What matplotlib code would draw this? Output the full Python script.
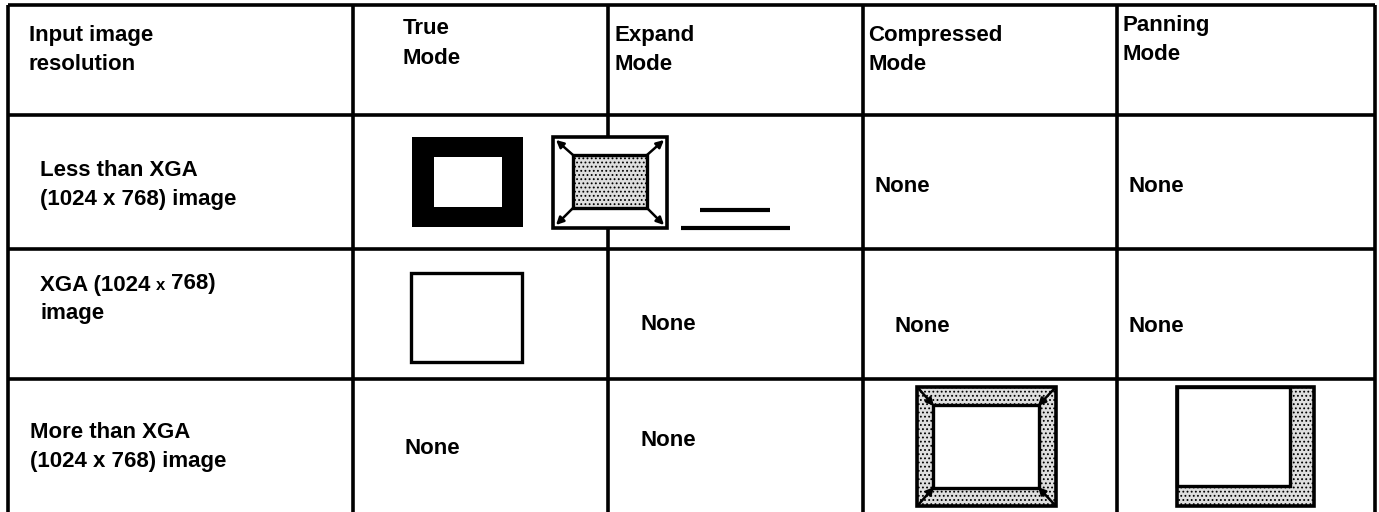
import matplotlib.pyplot as plt
from matplotlib.patches import Rectangle

plt.rcParams['hatch.color'] = '#b8b8b8'
plt.rcParams['hatch.linewidth'] = 0.8

# table content
header_first = ["Input image", "resolution"]
mode_names = [["True", "Mode"], ["Expand", "Mode"], ["Compressed", "Mode"], ["Panning", "Mode"]]
row_names = [["Less than XGA", "(1024 x 768) image"],
             ["XGA (1024 x 768)", "image"],
             ["More than XGA", "(1024 x 768) image"]]
# what sits in each cell: "None" text or a picture
cells = [["thick_frame", "expand", "None", "None"],
         ["frame", "None", "None", "None"],
         ["None", "None", "compressed", "panning"]]

W, H = 1379, 512
col_x = [8, 353, 608, 863, 1117, 1375]
row_y = [5, 115, 249, 379, 514]

fig = plt.figure(figsize=(W / 100, H / 100), dpi=100)
ax = fig.add_axes([0, 0, 1, 1])
ax.set_xlim(0, W)
ax.set_ylim(H, 0)
ax.axis('off')

FS = 16
FAM = ['Liberation Sans', 'DejaVu Sans']
font = dict(family=FAM, weight='bold', fontsize=FS, va='center', ha='left')
LW = 2.6

# grid
for x in col_x:
    ax.plot([x, x], [row_y[0], H], color='black', lw=LW, solid_capstyle='butt', zorder=1)
for y in row_y[:-1]:
    ax.plot([col_x[0], col_x[-1]], [y, y], color='black', lw=LW, solid_capstyle='butt', zorder=1)

# header text
head_pos = [(29, 35, 64), (403, 29, 58), (615, 35, 64), (868, 35, 64), (1122, 25, 54)]
x0, ya, yb = head_pos[0]
ax.text(x0, ya, header_first[0], **font)
ax.text(x0, yb, header_first[1], **font)
for (x0, ya, yb), lines in zip(head_pos[1:], mode_names):
    ax.text(x0, ya, lines[0], **font)
    ax.text(x0, yb, lines[1], **font)

# row label text
row_pos = [(40, 170, 200), (40, 285, 314), (30, 433, 462)]
for i, ((x0, ya, yb), lines) in enumerate(zip(row_pos, row_names)):
    if i == 1:
        # the x in this line is set smaller
        t1 = ax.text(x0, ya, "XGA (1024", **font)
        t2 = ax.annotate("x", xy=(1, 0), xycoords=t1, xytext=(4, 3.7), textcoords='offset points',
                         family=FAM, weight='bold', fontsize=12, va='baseline', ha='left')
        ax.annotate("768)", xy=(1, 0), xycoords=t2, xytext=(4, 2.8), textcoords='offset points',
                    family=FAM, weight='bold', fontsize=FS, va='baseline', ha='left')
    else:
        ax.text(x0, ya, lines[0], **font)
    ax.text(x0, yb, lines[1], **font)

# "None" positions per cell
none_pos = {(0, 2): (875, 186), (0, 3): (1128, 186),
            (1, 1): (640, 325), (1, 2): (895, 327), (1, 3): (1128, 327),
            (2, 0): (405, 448), (2, 1): (640, 441)}

gray = '#dedede'


def rect(x1, y1, x2, y2, **kw):
    ax.add_patch(Rectangle((x1, y1), x2 - x1, y2 - y1, **kw))


def arrow(start, end):
    ax.annotate('', xy=end, xytext=start,
                arrowprops=dict(arrowstyle='-|>', lw=1.8, color='black', mutation_scale=11,
                                shrinkA=0, shrinkB=0), zorder=5)


for r, row in enumerate(cells):
    for c, kind in enumerate(row):
        if kind == "None":
            x0, y0 = none_pos[(r, c)]
            ax.text(x0, y0, "None", **font)
        elif kind == "thick_frame":
            rect(412, 137, 523, 227, facecolor='black', edgecolor='black', lw=0, zorder=3)
            rect(434, 157, 502, 207, facecolor='white', edgecolor='none', zorder=4)
        elif kind == "expand":
            rect(553, 137, 667, 228, facecolor='white', edgecolor='black', lw=2.6, zorder=3)
            rect(573, 155, 647, 208, facecolor=gray, edgecolor='black', lw=2.4, hatch='....', zorder=4)
            for (xi, yi), (xo, yo) in [((573, 155), (556, 140)), ((647, 155), (664, 140)),
                                       ((573, 208), (556, 225)), ((647, 208), (664, 225))]:
                arrow((xi, yi), (xo, yo))
            # two bars beside the picture
            ax.plot([700, 770], [210, 210], color='black', lw=3, solid_capstyle='butt', zorder=3)
            ax.plot([681, 790], [228, 228], color='black', lw=3, solid_capstyle='butt', zorder=3)
        elif kind == "frame":
            rect(411, 273, 522, 362, facecolor='white', edgecolor='black', lw=2.4, zorder=3)
        elif kind == "compressed":
            rect(917, 387, 1056, 506, facecolor=gray, edgecolor='black', lw=2.6, hatch='....', zorder=3)
            rect(933, 405, 1039, 488, facecolor='white', edgecolor='black', lw=2.4, zorder=4)
            for (xo, yo), (xi, yi) in [((919, 389), (934, 406)), ((1054, 389), (1038, 406)),
                                       ((919, 504), (934, 487)), ((1054, 504), (1038, 487))]:
                arrow((xo, yo), (xi, yi))
        elif kind == "panning":
            rect(1177, 387, 1314, 506, facecolor=gray, edgecolor='black', lw=2.6, hatch='....', zorder=3)
            rect(1177, 387, 1290, 486, facecolor='white', edgecolor='black', lw=2.4, zorder=4)

fig.savefig('out.png', dpi=100)
